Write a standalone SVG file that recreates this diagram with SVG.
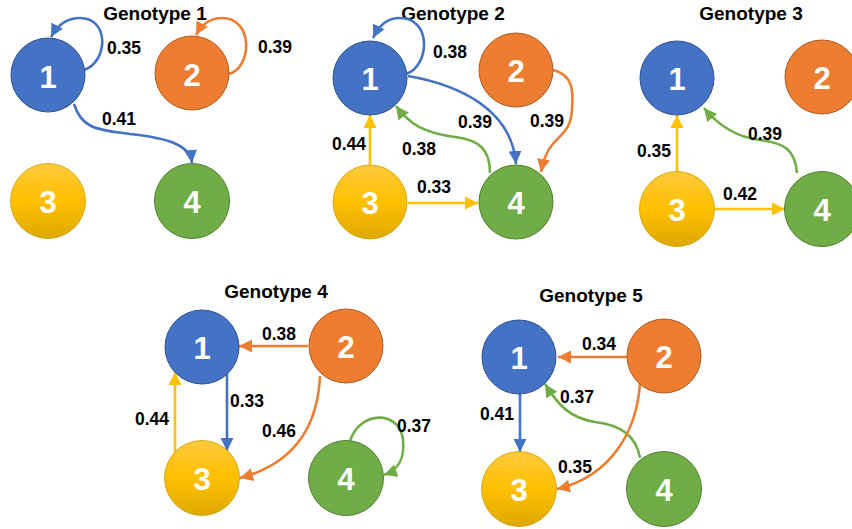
<svg xmlns="http://www.w3.org/2000/svg" width="852" height="529" viewBox="0 0 852 529">
<style>
.n1{fill:#4472C4;stroke:#2F528F;stroke-width:1}
.n2{fill:#ED7D31;stroke:#AE5A21;stroke-width:1}
.n3{fill:url(#yg);stroke:#C9A000;stroke-width:0.8}
.n4{fill:#70AD47;stroke:#507E32;stroke-width:1}
.d{font-family:"Liberation Sans",Arial,sans-serif;font-weight:bold;font-size:31px;fill:#fff;text-anchor:middle}
.t{font-family:"Liberation Sans",Arial,sans-serif;font-weight:bold;font-size:19px;fill:#000;text-anchor:middle}
.l{font-family:"Liberation Sans",Arial,sans-serif;font-weight:bold;font-size:17.5px;fill:#000}
.e{fill:none;stroke-width:2.6}
.b{stroke:#4472C4;marker-end:url(#ab)}
.o{stroke:#ED7D31;marker-end:url(#ao)}
.y{stroke:#FFC000;marker-end:url(#ay)}
.g{stroke:#70AD47;marker-end:url(#ag)}
</style>
<defs>
<linearGradient id="yg" x1="0" y1="0" x2="0" y2="1">
<stop offset="0" stop-color="#FFC93C"/>
<stop offset="0.5" stop-color="#FFC000"/>
<stop offset="1" stop-color="#DDA800"/>
</linearGradient>
<marker id="ab" markerUnits="userSpaceOnUse" markerWidth="14" markerHeight="14" refX="13" refY="7" orient="auto"><path d="M0,0.5 L13,7 L0,13.5 z" fill="#4472C4"/></marker>
<marker id="ao" markerUnits="userSpaceOnUse" markerWidth="14" markerHeight="14" refX="13" refY="7" orient="auto"><path d="M0,0.5 L13,7 L0,13.5 z" fill="#ED7D31"/></marker>
<marker id="ay" markerUnits="userSpaceOnUse" markerWidth="14" markerHeight="14" refX="13" refY="7" orient="auto"><path d="M0,0.5 L13,7 L0,13.5 z" fill="#FFC000"/></marker>
<marker id="ag" markerUnits="userSpaceOnUse" markerWidth="14" markerHeight="14" refX="13" refY="7" orient="auto"><path d="M0,0.5 L13,7 L0,13.5 z" fill="#70AD47"/></marker>
</defs>
<rect width="852" height="529" fill="#fff"/>

<g id="titles">
<text class="t" x="155" y="19.5">Genotype 1</text>
<text class="t" x="453" y="19.5">Genotype 2</text>
<text class="t" x="751" y="19.5">Genotype 3</text>
<text class="t" x="276" y="298">Genotype 4</text>
<text class="t" x="591" y="302">Genotype 5</text>
</g>

<g id="connectors">
<!-- Genotype 1 -->
<path class="e b" d="M84,70 C108,62 110,18 80,18 C68,18 58,24 51,37"/>
<path class="e o" d="M229,74 C252,68 254,18 222,18 C210,18 202,24 196,35"/>
<path class="e b" d="M74,104 C82,130 100,130 130,134 C168,138 190,145 192,163"/>
<!-- Genotype 2 -->
<path class="e b" d="M406,74 C430,66 432,18 400,18 C388,18 380,24 373,38"/>
<path class="e b" d="M408,76 C460,85 512,110 516,164"/>
<path class="e o" d="M553,70 C575,75 573,95 572,110 C571,130 560,135 552,145 C546,152 543,162 541,172"/>
<path class="e g" d="M490,173 C490,150 480,140 455,137 C425,133 410,125 396,106"/>
<path class="e y" d="M370,165 L370,115"/>
<path class="e y" d="M408,203 L478,203"/>
<!-- Genotype 3 -->
<path class="e y" d="M677,172 L677,115"/>
<path class="e y" d="M715,209 L785,209"/>
<path class="e g" d="M797,173 C795,150 785,143 760,140 C735,137 718,125 704,108"/>
<!-- Genotype 4 -->
<path class="e o" d="M308,346 L239,346"/>
<path class="e b" d="M227,374 L227,451"/>
<path class="e y" d="M175,453 L175,372"/>
<path class="e o" d="M320,376 C318,420 300,462 240,478"/>
<path class="e g" d="M350,441 C360,410 400,410 403,440 C405,460 398,470 384,475"/>
<!-- Genotype 5 -->
<path class="e o" d="M627,357 L558,357"/>
<path class="e b" d="M520,394 L520,452"/>
<path class="e g" d="M640,458 C636,435 620,425 595,422 C570,418 558,405 545,384"/>
<path class="e o" d="M640,383 C637,430 612,476 557,489"/>
</g>

<g id="labels">
<text class="l" x="107" y="54">0.35</text>
<text class="l" x="258" y="53">0.39</text>
<text class="l" x="102" y="125">0.41</text>
<text class="l" x="433" y="58">0.38</text>
<text class="l" x="458" y="128">0.39</text>
<text class="l" x="530" y="127">0.39</text>
<text class="l" x="402" y="155">0.38</text>
<text class="l" x="332" y="150">0.44</text>
<text class="l" x="417" y="193">0.33</text>
<text class="l" x="637" y="157">0.35</text>
<text class="l" x="723" y="200">0.42</text>
<text class="l" x="748" y="140">0.39</text>
<text class="l" x="262" y="340">0.38</text>
<text class="l" x="230" y="407">0.33</text>
<text class="l" x="135" y="425">0.44</text>
<text class="l" x="262" y="437">0.46</text>
<text class="l" x="397" y="432">0.37</text>
<text class="l" x="582" y="350">0.34</text>
<text class="l" x="480" y="420">0.41</text>
<text class="l" x="560" y="403">0.37</text>
<text class="l" x="558" y="473">0.35</text>
</g>

<g id="g1-n1"><circle class="n1" cx="48" cy="75" r="37"/><text class="d" x="48" y="88">1</text></g>
<g id="g1-n2"><circle class="n2" cx="192" cy="73" r="37"/><text class="d" x="192" y="86">2</text></g>
<g id="g1-n3"><circle class="n3" cx="48" cy="201" r="37.5"/><text class="d" x="48" y="213">3</text></g>
<g id="g1-n4"><circle class="n4" cx="192" cy="201" r="37.5"/><text class="d" x="192" y="213">4</text></g>

<g id="g2-n1"><circle class="n1" cx="370" cy="78" r="37"/><text class="d" x="370" y="90">1</text></g>
<g id="g2-n2"><circle class="n2" cx="516" cy="70" r="37"/><text class="d" x="516" y="82">2</text></g>
<g id="g2-n3"><circle class="n3" cx="370" cy="202" r="37"/><text class="d" x="370" y="214">3</text></g>
<g id="g2-n4"><circle class="n4" cx="516" cy="202" r="37"/><text class="d" x="516" y="214">4</text></g>

<g id="g3-n1"><circle class="n1" cx="677" cy="78" r="37"/><text class="d" x="677" y="90">1</text></g>
<g id="g3-n2"><circle class="n2" cx="822" cy="77" r="37"/><text class="d" x="822" y="89">2</text></g>
<g id="g3-n3"><circle class="n3" cx="677" cy="209" r="37.5"/><text class="d" x="677" y="221">3</text></g>
<g id="g3-n4"><circle class="n4" cx="822" cy="209" r="37.5"/><text class="d" x="822" y="221">4</text></g>

<g id="g4-n1"><circle class="n1" cx="202" cy="347" r="37"/><text class="d" x="202" y="359">1</text></g>
<g id="g4-n2"><circle class="n2" cx="346" cy="346" r="37"/><text class="d" x="346" y="358">2</text></g>
<g id="g4-n3"><circle class="n3" cx="202" cy="478" r="37.5"/><text class="d" x="202" y="490">3</text></g>
<g id="g4-n4"><circle class="n4" cx="346" cy="478" r="37.5"/><text class="d" x="346" y="490">4</text></g>

<g id="g5-n1"><circle class="n1" cx="519" cy="357" r="37"/><text class="d" x="519" y="369">1</text></g>
<g id="g5-n2"><circle class="n2" cx="664" cy="356" r="37"/><text class="d" x="664" y="368">2</text></g>
<g id="g5-n3"><circle class="n3" cx="519" cy="489" r="37.5"/><text class="d" x="519" y="501">3</text></g>
<g id="g5-n4"><circle class="n4" cx="664" cy="489" r="37.5"/><text class="d" x="664" y="501">4</text></g>
</svg>
